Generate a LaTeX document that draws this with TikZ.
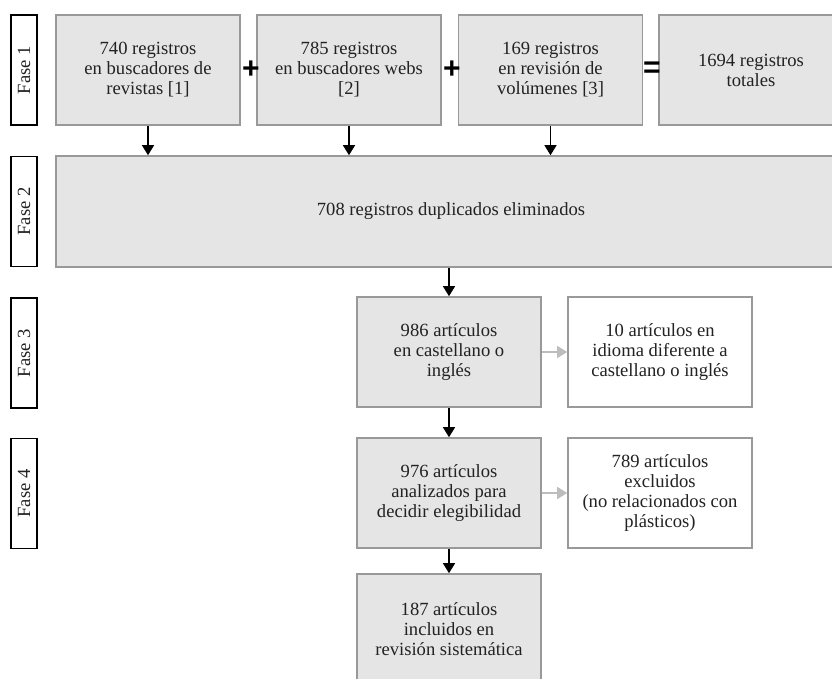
\documentclass[tikz,border=0pt]{standalone}
\usepackage{fontspec}
\setmainfont{Liberation Serif}
\newfontfamily\signfont{Liberation Sans}
\usetikzlibrary{arrows.meta,positioning}

\definecolor{boxfill}{HTML}{E5E5E5}
\definecolor{boxline}{HTML}{999999}
\definecolor{sidearrow}{HTML}{BDBDBD}
\definecolor{txt}{HTML}{222222}

\tikzset{
  stagebox/.style={draw=boxline, line width=1.6pt, fill=boxfill, minimum width=184pt,
    minimum height=110pt, align=center, text=txt, inner sep=0pt},
  outbox/.style={stagebox, fill=white},
  phaselabel/.style={draw=black, line width=1.5pt, fill=white, rotate=90, minimum width=110pt,
    minimum height=26pt, inner sep=0pt, text=txt},
  sign/.style={font=\signfont\bfseries\fontsize{30}{30}\selectfont, inner sep=0pt},
  arr/.style={-{Triangle[length=10pt,width=12pt]}, line width=1.3pt, black},
  grayarr/.style={-{Triangle[length=10pt,width=12pt]}, line width=1.3pt, sidearrow}
}

\begin{document}
\begin{tikzpicture}[x=1pt, y=-1pt, font=\fontsize{18.6}{20}\selectfont]
        \clip (0,0) rectangle (832,678);
        \fill[white] (0,0) rectangle (832,678);

        % Phase labels
        \node[phaselabel] (fase1) at (24,70) {Fase 1};
        \node[phaselabel] (fase2) at (24,211.5) {Fase 2};
        \node[phaselabel] (fase3) at (24,353) {Fase 3};
        \node[phaselabel] (fase4) at (24,493.5) {Fase 4};

        % Phase 1: sources
        \node[stagebox] (revistas) at (148,70) {740 registros\\en buscadores de\\revistas [1]};
        \node[stagebox] (webs) at (349,70) {785 registros\\en buscadores webs\\{[2]}};
        \node[stagebox] (volumenes) at (550.5,70) {169 registros\\en revisión de\\volúmenes [3]};
        \node[stagebox] (totales) at (751,70) {1694 registros\\totales};

        \node[sign] (plusA) at (251,70) {+};
        \node[sign] (plusB) at (452,70) {+};
        \node[sign] (equals) at (652,69.5) {=};

        % Phase 2
        \node[stagebox, minimum width=790pt, minimum height=111pt] (duplicados) at (451,211.5)
          {708 registros duplicados eliminados};

        % Phase 3 and 4
        \node[stagebox] (idioma) at (449,352) {986 artículos\\en castellano o\\inglés};
        \node[outbox] (otroidioma) at (660,352) {10 artículos en\\idioma diferente a\\castellano o inglés};
        \node[stagebox] (elegibles) at (449,493) {976 artículos\\analizados para\\decidir elegibilidad};
        \node[outbox] (excluidos) at (660,493) {789 artículos\\excluidos\\(no relacionados con\\plásticos)};
        \node[stagebox] (incluidos) at (449,629) {187 artículos\\incluidos en\\revisión sistemática};

        % Arrows
        \draw[arr] (revistas.south) -- (revistas.south |- duplicados.north);
        \draw[arr] (webs.south) -- (webs.south |- duplicados.north);
        \draw[arr] (volumenes.south) -- (volumenes.south |- duplicados.north);
        \draw[arr] (idioma.north |- duplicados.south) -- (idioma.north);
        \draw[arr] (idioma.south) -- (elegibles.north);
        \draw[arr] (elegibles.south) -- (incluidos.north);
        \draw[grayarr] (idioma.east) -- (otroidioma.west);
        \draw[grayarr] (elegibles.east) -- (excluidos.west);
      \end{tikzpicture}
\end{document}
